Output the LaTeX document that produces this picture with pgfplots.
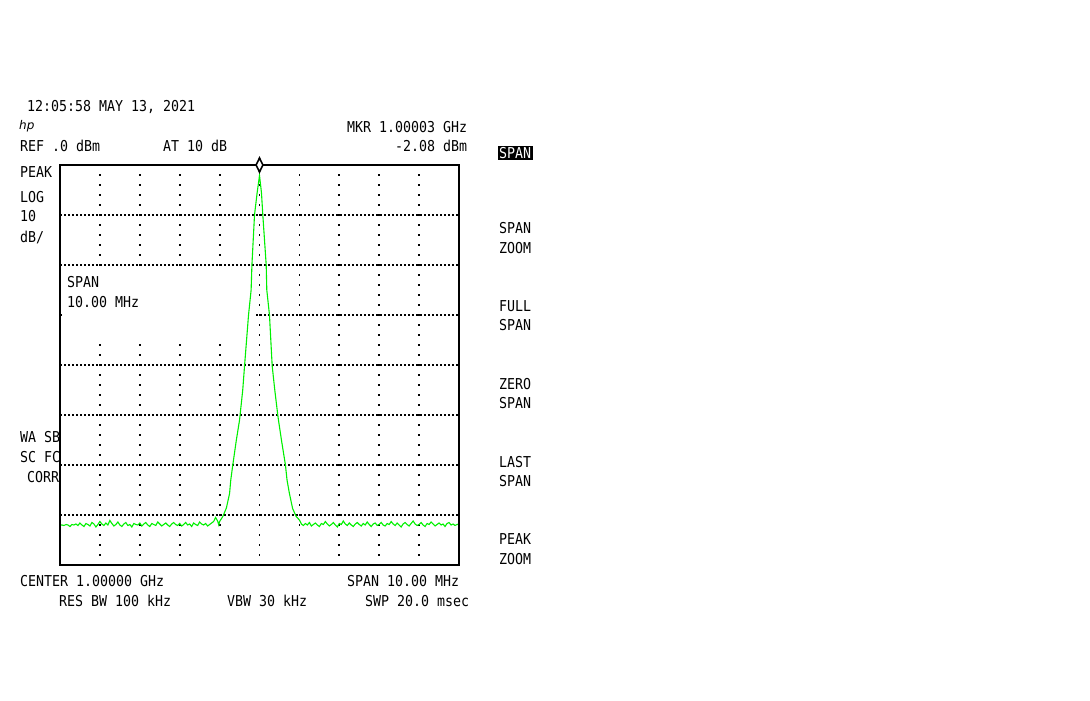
\documentclass[border=0pt]{standalone}
\usepackage{pgfplots}
\pgfplotsset{compat=1.18}
\usepackage{fontspec}
\setmainfont{DejaVu Sans Mono}
\newfontfamily\hpf[FakeStretch=0.886]{DejaVu Sans Mono}
\newfontfamily\logof{DejaVu Sans}
\definecolor{trace}{RGB}{0,240,0}
\tikzset{lbl/.style={anchor=base west, inner sep=0pt, outer sep=0pt, font=\hpf\fontsize{15bp}{18bp}\selectfont}}
\begin{document}
\begin{tikzpicture}
\useasboundingbox (0,0) rectangle (1090bp,701bp);
\begin{axis}[
  at={(60bp,136bp)}, anchor=south west,
  width=399bp, height=400bp, scale only axis,
  xmin=995, xmax=1005, ymin=-80, ymax=0,
  xtick={996,997,998,999,1000,1001,1002,1003,1004},
  ytick={-70,-60,-50,-40,-30,-20,-10},
  xticklabels={}, yticklabels={},
  major tick length=0pt,
  axis line style={draw=none},
  grid=major,
  x grid style={line width=1.8bp, black, dash pattern=on 1.8bp off 8.2bp, dash phase=0.9bp},
  y grid style={line width=1.5bp, black, dash pattern=on 1.5bp off 2.5bp},
  clip=false,
]
\fill[white] (axis cs:995.04,-20.4) rectangle (axis cs:999.92,-35.4);
\addplot[trace, line width=1.1bp, sharp plot, mark=none] coordinates {
(995.00,-72.0) (995.05,-72.0) (995.10,-72.1) (995.15,-71.9) (995.20,-72.0)
(995.25,-72.3) (995.30,-71.9) (995.35,-72.0) (995.40,-71.8) (995.45,-72.1)
(995.50,-71.6) (995.55,-72.0) (995.60,-72.3) (995.65,-71.7) (995.70,-71.9)
(995.75,-72.2) (995.80,-71.5) (995.85,-71.8) (995.90,-72.4) (995.95,-71.9)
(996.00,-71.3) (996.05,-71.8) (996.10,-72.1) (996.15,-71.6) (996.20,-72.0)
(996.25,-71.1) (996.30,-71.7) (996.35,-72.2) (996.40,-71.9) (996.45,-71.4)
(996.50,-72.0) (996.55,-72.3) (996.60,-71.8) (996.65,-71.5) (996.70,-72.1)
(996.75,-71.9) (996.80,-72.4) (996.85,-71.7) (996.90,-71.9) (996.95,-72.0)
(997.00,-71.6) (997.05,-72.2) (997.10,-71.8) (997.15,-71.5) (997.20,-72.0)
(997.25,-72.3) (997.30,-71.7) (997.35,-71.9) (997.40,-72.1) (997.45,-71.4)
(997.50,-71.8) (997.55,-72.2) (997.60,-71.9) (997.65,-71.6) (997.70,-72.0)
(997.75,-72.3) (997.80,-71.8) (997.85,-71.5) (997.90,-71.9) (997.95,-72.1)
(998.00,-71.7) (998.05,-72.2) (998.10,-71.9) (998.15,-71.5) (998.20,-72.0)
(998.25,-71.8) (998.30,-72.3) (998.35,-71.6) (998.40,-71.9) (998.45,-72.1)
(998.50,-71.4) (998.55,-71.8) (998.60,-72.0) (998.65,-71.7) (998.70,-72.2)
(998.75,-71.9) (998.80,-71.6) (998.85,-71.3) (998.90,-70.5) (998.95,-71.2)
(998.98,-72.0) (999.00,-71.3) (999.08,-70.3) (999.17,-68.6) (999.25,-65.7)
(999.28,-63.0) (999.33,-60.0) (999.42,-55.0) (999.50,-51.0) (999.58,-45.0)
(999.625,-40.2) (999.725,-30.0) (999.79,-25.0) (999.81,-20.0) (999.875,-10.0)
(999.94,-5.6) (1000.00,-2.1) (1000.05,-5.6) (1000.083,-10.0) (1000.168,-20.0)
(1000.183,-25.0) (1000.25,-30.0) (1000.318,-40.2) (1000.383,-45.0) (1000.458,-50.0)
(1000.475,-51.0) (1000.55,-55.0) (1000.65,-60.0) (1000.69,-63.0) (1000.75,-65.7)
(1000.83,-68.7) (1000.92,-70.3) (1001.00,-71.0)
(1001.05,-71.8) (1001.10,-72.1) (1001.15,-71.7) (1001.20,-72.0) (1001.25,-71.5)
(1001.30,-72.2) (1001.35,-71.9) (1001.40,-71.6) (1001.45,-72.0) (1001.50,-72.3)
(1001.55,-71.7) (1001.60,-71.9) (1001.65,-71.3) (1001.70,-71.8) (1001.75,-72.2)
(1001.80,-71.9) (1001.85,-71.5) (1001.90,-72.0) (1001.95,-72.4) (1002.00,-71.7)
(1002.05,-71.9) (1002.10,-71.2) (1002.15,-71.8) (1002.20,-72.1) (1002.25,-71.6)
(1002.30,-72.0) (1002.35,-72.3) (1002.40,-71.8) (1002.45,-71.5) (1002.50,-71.9)
(1002.55,-72.2) (1002.60,-71.7) (1002.65,-72.0) (1002.70,-71.4) (1002.75,-71.9)
(1002.80,-72.3) (1002.85,-71.8) (1002.90,-71.6) (1002.95,-72.1) (1003.00,-71.9)
(1003.05,-71.5) (1003.10,-72.0) (1003.15,-72.2) (1003.20,-71.7) (1003.25,-71.9)
(1003.30,-71.3) (1003.35,-71.8) (1003.40,-72.1) (1003.45,-71.6) (1003.50,-72.0)
(1003.55,-72.4) (1003.60,-71.8) (1003.65,-71.5) (1003.70,-71.9) (1003.75,-72.2)
(1003.80,-71.7) (1003.85,-71.2) (1003.90,-71.8) (1003.95,-72.1) (1004.00,-71.9)
(1004.05,-71.5) (1004.10,-72.0) (1004.15,-72.3) (1004.20,-71.7) (1004.25,-71.9)
(1004.30,-71.4) (1004.35,-71.8) (1004.40,-72.2) (1004.45,-71.9) (1004.50,-71.6)
(1004.55,-72.0) (1004.60,-71.8) (1004.65,-72.3) (1004.70,-71.7) (1004.75,-71.5)
(1004.80,-72.0) (1004.85,-71.8) (1004.90,-72.1) (1004.95,-71.9) (1005.00,-71.8)
};
\draw[black, line width=1.3bp] (rel axis cs:0,0) rectangle (rel axis cs:1,1);
\draw[black, line width=2.7bp] (rel axis cs:0,0) -- (rel axis cs:1,0);
\draw[black, line width=2.7bp] (rel axis cs:0,1) -- (rel axis cs:1,1);
\addplot[only marks, mark=diamond*, mark size=7bp, mark options={fill=white, draw=black, line width=1.6bp, xscale=0.65}] coordinates {(1000.0,0)};
\end{axis}
% header
\node[lbl] at (27bp,589.5bp) {12:05:58 MAY 13, 2021};
\node[anchor=base west, inner sep=0pt, font=\logof\itshape\fontsize{12bp}{12bp}\selectfont] at (19bp,571bp) {hp};
\node[lbl] at (347bp,568.5bp) {MKR 1.00003 GHz};
\node[lbl] at (20bp,549.5bp) {REF .0 dBm};
\node[lbl] at (163bp,549.5bp) {AT 10 dB};
\node[lbl] at (395bp,549.5bp) {-2.08 dBm};
% left column
\node[lbl] at (20bp,523.5bp) {PEAK};
\node[lbl] at (20bp,498.5bp) {LOG};
\node[lbl] at (20bp,479.5bp) {10};
\node[lbl] at (20bp,458.5bp) {dB/};
\node[lbl] at (67bp,413bp) {SPAN};
\node[lbl] at (67bp,393bp) {10.00 MHz};
\node[lbl] at (20bp,258bp) {WA SB};
\node[lbl] at (20bp,238.5bp) {SC FC};
\node[lbl] at (27bp,218.5bp) {CORR};
% bottom
\node[lbl] at (20bp,114.5bp) {CENTER 1.00000 GHz};
\node[lbl] at (347bp,114.5bp) {SPAN 10.00 MHz};
\node[lbl] at (59bp,94.5bp) {RES BW 100 kHz};
\node[lbl] at (227bp,94.5bp) {VBW 30 kHz};
\node[lbl] at (365bp,94.5bp) {SWP 20.0 msec};
% softkey menu
\node[lbl, fill=black, text=white, inner sep=1.5bp] at (497.5bp,542.5bp) {SPAN};
\node[lbl] at (499bp,467.5bp) {SPAN};
\node[lbl] at (499bp,447.5bp) {ZOOM};
\node[lbl] at (499bp,389.5bp) {FULL};
\node[lbl] at (499bp,370bp) {SPAN};
\node[lbl] at (499bp,311.5bp) {ZERO};
\node[lbl] at (499bp,292.5bp) {SPAN};
\node[lbl] at (499bp,233.5bp) {LAST};
\node[lbl] at (499bp,214.5bp) {SPAN};
\node[lbl] at (499bp,156.5bp) {PEAK};
\node[lbl] at (499bp,136.5bp) {ZOOM};
\end{tikzpicture}
\end{document}
